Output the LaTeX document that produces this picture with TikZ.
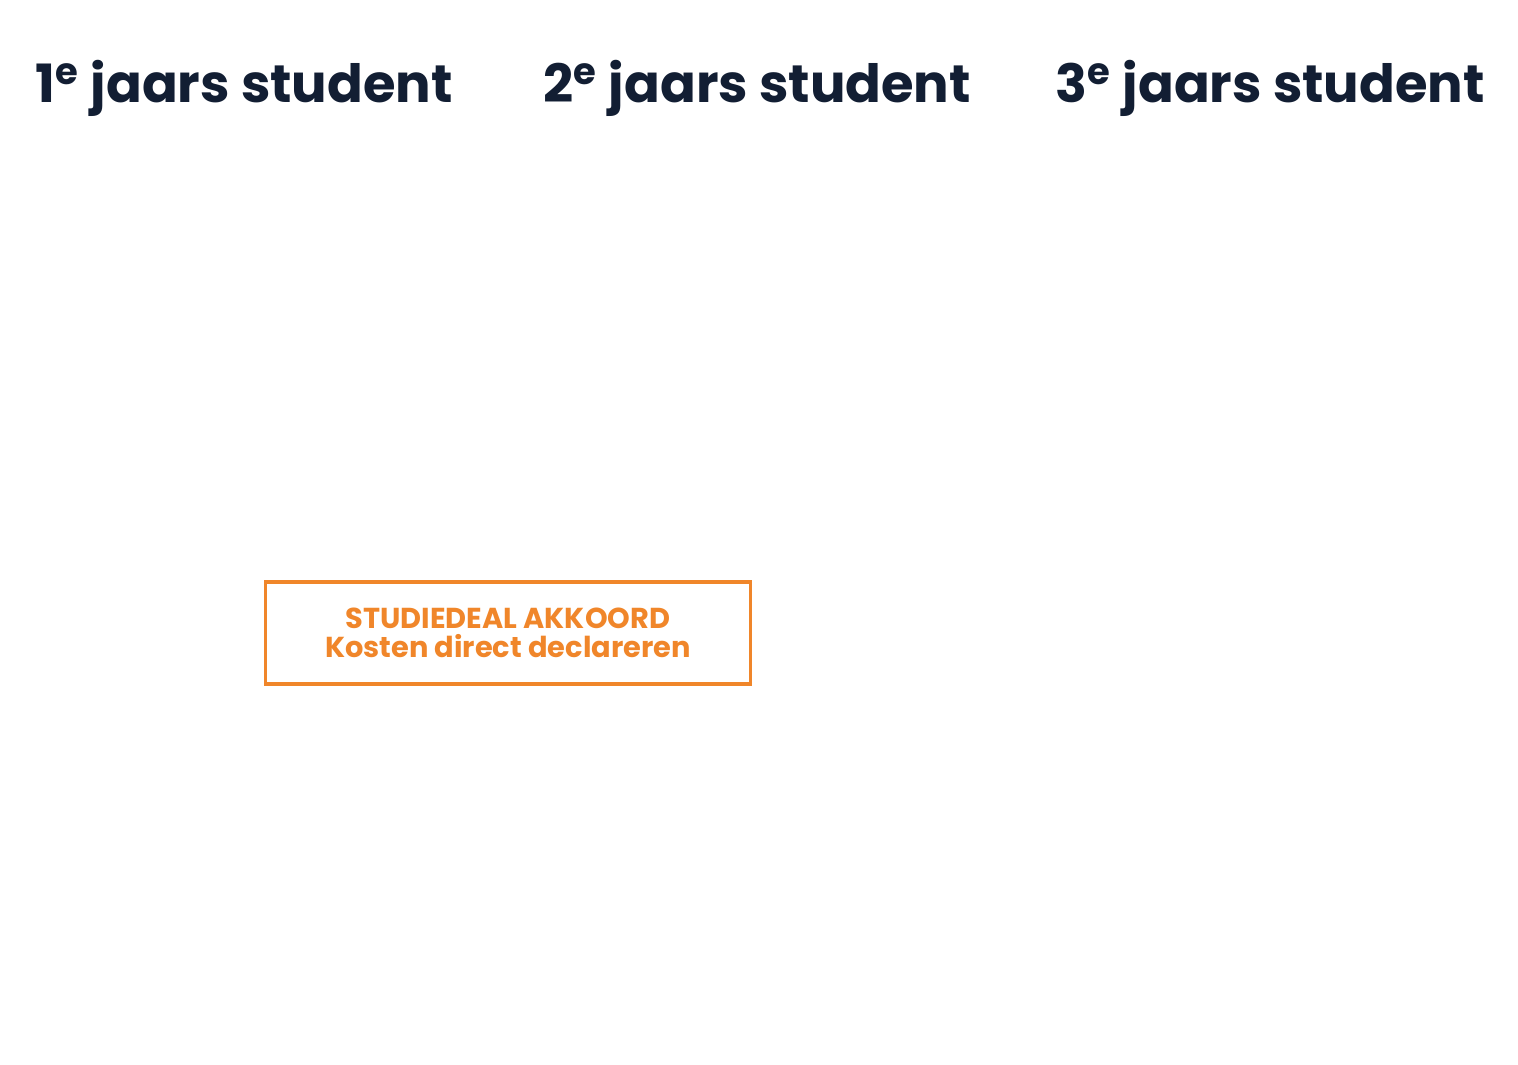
\documentclass[tikz,border=0pt]{standalone}
\usepackage{fontspec}
\setmainfont{Poppins}
\definecolor{navy}{HTML}{121E33}
\definecolor{orng}{HTML}{F0862A}
\begin{document}
\begin{tikzpicture}[x=0.01cm,y=-0.01cm,
  head/.style={font=\fontsize{15}{18}\selectfont\bfseries,text=navy,anchor=base,inner sep=0},
  deal/.style={draw=orng,line width=0.9pt,text=orng,font=\fontsize{8.2}{8.3}\selectfont\bfseries,align=center,minimum width=4.84cm,minimum height=1.02cm,inner sep=0}]
\useasboundingbox (0,0) rectangle (1518,1065);
\node[head] (h1) at (244,103) {1\textsuperscript{e} jaars student};
\node[head] (h2) at (757,103) {2\textsuperscript{e} jaars student};
\node[head] (h3) at (1270,103) {3\textsuperscript{e} jaars student};
\node[deal] (box) at (508,633) {STUDIEDEAL AKKOORD\\Kosten direct declareren};
\end{tikzpicture}
\end{document}
